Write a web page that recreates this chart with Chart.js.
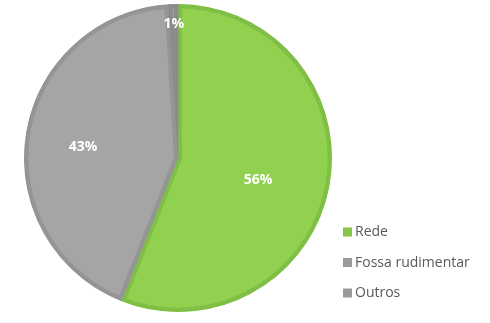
<!DOCTYPE html>
<html>
<head>
<meta charset="utf-8">
<script src="https://cdn.jsdelivr.net/npm/chart.js@4"></script>
<style>
  html, body { margin: 0; padding: 0; background: #ffffff; }
  canvas { display: block; }
</style>
</head>
<body>
<canvas id="pie" width="490" height="323"></canvas>
<script>
// Destino do esgoto sanitário (%)
const categories = ['Rede', 'Fossa rudimentar', 'Outros'];
const shares = [56, 43, 1];

const fillColors = ['#92D050', '#A5A5A5', '#A0A0A0'];
const edgeColors = ['#7FBF45', '#959595', '#8C8C8C'];

// placement of each percentage label: fraction of the radius and turn (degrees) from mid-slice
const labelRadius = [0.54, 0.62, 0.87];
const labelTurn = [4.6, -2.4, 0];

const FONT = '"Open Sans", "Liberation Sans", sans-serif';

const sliceLabels = {
  id: 'sliceLabels',
  afterDatasetsDraw(chart) {
    const ctx = chart.ctx;
    const meta = chart.getDatasetMeta(0);
    ctx.save();
    ctx.font = 'bold 14px ' + FONT;
    ctx.fillStyle = '#ffffff';
    ctx.textAlign = 'center';
    ctx.textBaseline = 'middle';
    meta.data.forEach((arc, i) => {
      const p = arc.getProps(['x', 'y', 'startAngle', 'endAngle', 'outerRadius'], true);
      const mid = (p.startAngle + p.endAngle) / 2 + labelTurn[i] * Math.PI / 180;
      const r = p.outerRadius * labelRadius[i];
      ctx.fillText(shares[i] + '%', p.x + Math.cos(mid) * r, p.y + Math.sin(mid) * r);
    });
    ctx.restore();
  }
};

const sideLegend = {
  id: 'sideLegend',
  afterDraw(chart) {
    const ctx = chart.ctx;
    ctx.save();
    ctx.font = '14px ' + FONT;
    ctx.textAlign = 'left';
    ctx.textBaseline = 'middle';
    const x0 = 343, y0 = 232, step = 30.5, box = 9;
    categories.forEach((name, i) => {
      const y = y0 + i * step;
      ctx.fillStyle = i === 0 ? '#86C64A' : '#9A9A9A';
      ctx.fillRect(x0, y - box / 2, box, box);
      ctx.fillStyle = '#595959';
      ctx.fillText(name, x0 + box + 3, y + 0.5);
    });
    ctx.restore();
  }
};

new Chart(document.getElementById('pie'), {
  type: 'pie',
  data: {
    labels: categories,
    datasets: [{
      data: shares,
      backgroundColor: fillColors,
      borderColor: edgeColors,
      borderWidth: 4,
      borderAlign: 'inner'
    }]
  },
  options: {
    responsive: false,
    animation: false,
    layout: { padding: { left: 24, right: 158, top: 4, bottom: 11 } },
    plugins: {
      legend: { display: false },
      tooltip: { enabled: false }
    }
  },
  plugins: [sliceLabels, sideLegend]
});
</script>
</body>
</html>
